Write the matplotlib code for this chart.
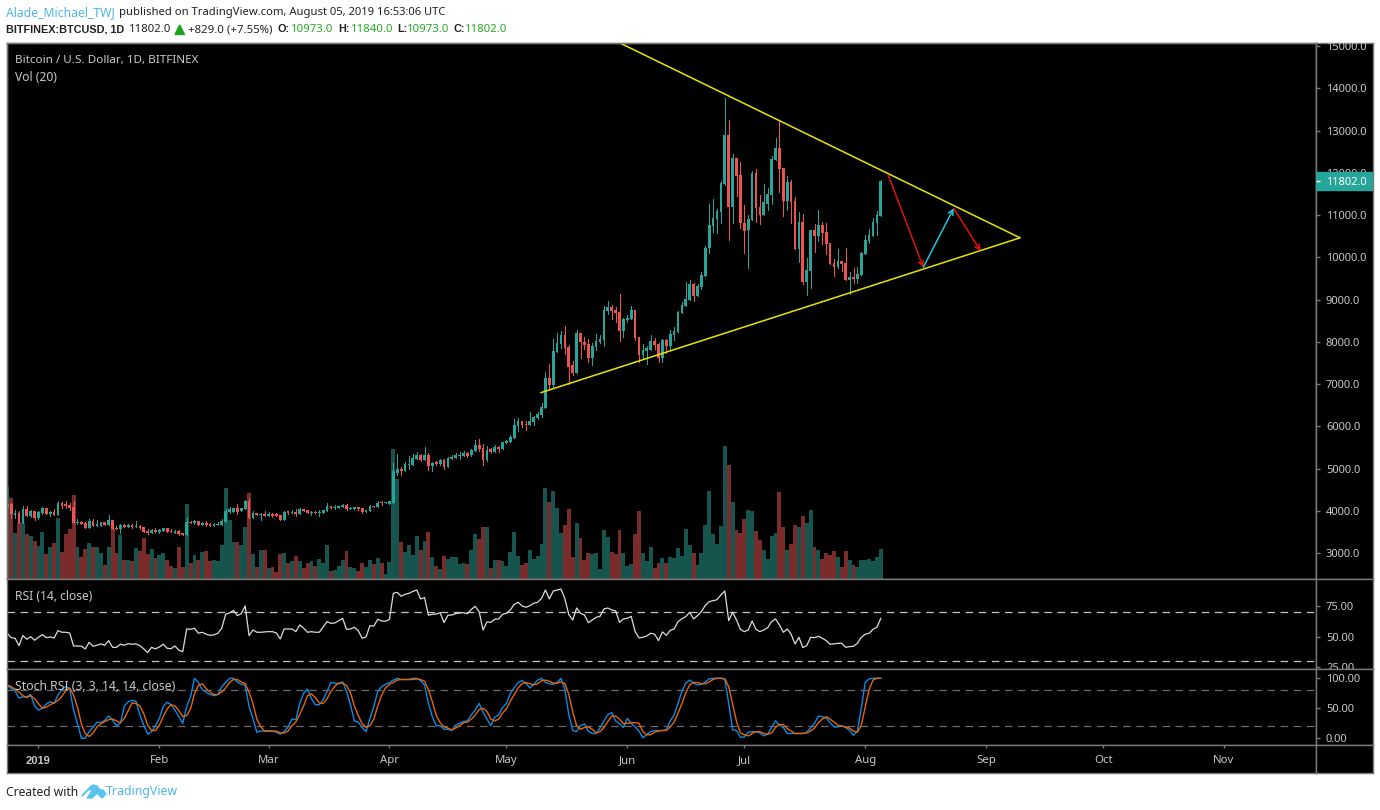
import numpy as np
import matplotlib
matplotlib.use("Agg")
import matplotlib.pyplot as plt
from matplotlib.patches import Polygon, Rectangle

plt.rcParams['font.family'] = ['Noto Sans', 'DejaVu Sans']

W, H = 1380, 810

# daily candles, first one is 24 Dec 2018, last one 5 Aug 2019
opens = [
    4065, 4160, 3900, 3947, 3710, 4042, 3876, 3994, 3829, 3947, 4065, 3923, 3971, 3900, 4184, 4160, 4136, 4089, 3710, 3734,
    3710, 3592, 3758, 3639, 3639, 3734, 3663, 3781, 3592, 3568, 3663, 3616, 3663, 3616, 3639, 3608, 3521, 3474, 3545, 3497,
    3521, 3592, 3529, 3474, 3521, 3466, 3426, 3742, 3710, 3758, 3663, 3710, 3687, 3639, 3663, 3663, 3734, 3971, 3971, 4065,
    3994, 4042, 4231, 3829, 3947, 3900, 3923, 3876, 3923, 3923, 3900, 3781, 3987, 3947, 3971, 3923, 4042, 4018, 3947, 3971,
    3947, 3947, 3994, 4113, 4065, 4065, 4089, 4136, 4042, 4042, 4089, 4065, 3971, 3994, 4113, 4089, 4207, 4184, 4160, 4184,
    4894, 4989, 4941, 5083, 5083, 5225, 5320, 5202, 5320, 5060, 5154, 5107, 5202, 5036, 5225, 5249, 5296, 5296, 5367, 5320,
    5415, 5557, 5486, 5202, 5462, 5391, 5509, 5462, 5604, 5628, 5722, 6006, 6125, 6054, 6030, 6101, 6196, 6267, 6432, 7142,
    6977, 7758, 7947, 8160, 7876, 7450, 7261, 8207, 7994, 7947, 7616, 7876, 7994, 8042, 8728, 8823, 8752, 8705, 8255, 8515,
    8539, 8752, 8113, 7687, 7781, 7805, 8018, 7947, 7616, 8042, 7900, 8160, 8231, 8681, 8847, 8989, 9359, 9083, 9296, 9556,
    10219, 10740, 10906, 11071, 11734, 12894, 11190, 12349, 11947, 10811, 10645, 10882, 11994, 11190, 11000, 11261, 11474, 12302, 12586, 12113,
    11332, 11781, 11332, 10195, 10834, 9414, 9675, 10645, 10503, 10764, 10598, 10338, 9864, 9769, 9911, 9864, 9462, 9533, 9486, 9580,
    10077, 10385, 10503, 10811, 10973,
]
highs = [
    4184, 4184, 4018, 4002, 4113, 4113, 4018, 3994, 3994, 4089, 4065, 4002, 4042, 4231, 4207, 4231, 4184, 4231, 3805, 3758,
    3734, 3805, 3805, 3781, 3734, 3734, 3900, 3781, 3639, 3687, 3687, 3687, 3687, 3758, 3663, 3608, 3568, 3568, 3592, 3568,
    3592, 3592, 3560, 3545, 3545, 3466, 3829, 3758, 3781, 3758, 3734, 3758, 3710, 3710, 3734, 3805, 4042, 4089, 4065, 4160,
    4065, 4255, 4302, 3994, 3947, 3947, 3994, 3971, 3947, 3947, 3900, 3994, 4002, 4018, 4042, 4065, 4042, 4018, 3994, 3994,
    4018, 4018, 4184, 4113, 4136, 4113, 4160, 4160, 4089, 4089, 4089, 4065, 4018, 4136, 4113, 4231, 4231, 4207, 4223, 5131,
    5344, 5044, 5154, 5296, 5344, 5391, 5344, 5509, 5367, 5154, 5178, 5225, 5225, 5273, 5320, 5367, 5391, 5415, 5391, 5462,
    5675, 5699, 5580, 5533, 5486, 5557, 5541, 5628, 5675, 5793, 6172, 6196, 6125, 6125, 6338, 6243, 6338, 6551, 7284, 7474,
    8065, 8207, 8255, 8373, 7923, 7545, 8278, 8207, 8113, 8065, 7971, 8184, 8160, 8847, 8965, 8870, 8823, 9131, 8562, 8634,
    8847, 8752, 8113, 7947, 7900, 8160, 8089, 7971, 8065, 8065, 8278, 8349, 8728, 8941, 9415, 9462, 9391, 9359, 9651, 10266,
    11261, 11379, 11142, 11805, 13770, 13249, 12444, 12349, 12255, 11237, 11000, 12042, 12089, 11474, 11734, 11639, 12397, 12823, 13225, 12113,
    11923, 11828, 11426, 11071, 11024, 9982, 10645, 10787, 11119, 10835, 10811, 10338, 9959, 10195, 9911, 10219, 9651, 9753, 9770, 10124,
    10527, 10669, 10929, 11095, 11840,
]
lows = [
    4042, 3837, 3837, 3710, 3710, 3876, 3852, 3789, 3805, 3923, 3923, 3876, 3900, 3900, 4065, 4065, 4018, 3710, 3687, 3687,
    3592, 3592, 3639, 3639, 3639, 3663, 3663, 3568, 3568, 3474, 3616, 3616, 3592, 3616, 3568, 3497, 3450, 3474, 3497, 3474,
    3521, 3497, 3489, 3474, 3426, 3426, 3426, 3710, 3687, 3663, 3663, 3639, 3639, 3639, 3663, 3663, 3734, 3947, 3971, 3923,
    3994, 4042, 3829, 3829, 3900, 3781, 3876, 3876, 3852, 3876, 3781, 3781, 3923, 3947, 3876, 3923, 3994, 3947, 3900, 3947,
    3876, 3947, 3994, 4065, 4042, 4065, 4089, 4018, 4042, 4042, 4018, 3947, 3971, 3994, 4089, 4089, 4136, 4184, 4160, 4184,
    4847, 4847, 4941, 4989, 5083, 5225, 5178, 5202, 4965, 4941, 5083, 5083, 4989, 5036, 5225, 5249, 5225, 5296, 5273, 5296,
    5415, 5415, 5083, 5178, 5367, 5391, 5391, 5462, 5604, 5628, 5722, 5888, 5983, 5912, 6030, 6030, 6172, 6220, 6432, 6882,
    6906, 7758, 7852, 7710, 7000, 7213, 7261, 7616, 7829, 7521, 7450, 7805, 7971, 7900, 8657, 8539, 8468, 8018, 8113, 8468,
    8539, 8042, 7521, 7616, 7474, 7805, 7829, 7521, 7521, 7734, 7829, 8042, 8231, 8681, 8847, 8989, 8965, 9083, 9249, 9556,
    10101, 10598, 10574, 10811, 11710, 10409, 10811, 11450, 10692, 10101, 9746, 10882, 10835, 10787, 11000, 11119, 11261, 12302, 11545, 10977,
    11119, 10811, 10195, 9888, 9367, 9107, 9272, 10124, 10385, 10314, 10077, 9840, 9556, 9746, 9675, 9462, 9130, 9391, 9391, 9580,
    10077, 10338, 10503, 10527, 10973,
]
closes = [
    4160, 3923, 3939, 3710, 4042, 3876, 4002, 3829, 3971, 4065, 3923, 3971, 3900, 4184, 4113, 4113, 4065, 3710, 3734, 3687,
    3592, 3758, 3639, 3687, 3734, 3663, 3781, 3568, 3568, 3663, 3616, 3663, 3616, 3639, 3592, 3497, 3474, 3545, 3497, 3545,
    3592, 3497, 3489, 3521, 3450, 3426, 3734, 3710, 3758, 3663, 3710, 3663, 3639, 3687, 3687, 3758, 3994, 4042, 4065, 3971,
    4065, 4231, 3829, 3947, 3900, 3923, 3876, 3923, 3876, 3876, 3781, 3971, 3947, 3971, 3923, 4042, 3994, 3947, 3971, 3947,
    3971, 4018, 4113, 4065, 4089, 4113, 4136, 4042, 4065, 4089, 4042, 3971, 4018, 4113, 4089, 4184, 4184, 4207, 4223, 4941,
    4989, 4941, 5107, 5107, 5249, 5320, 5202, 5320, 5060, 5131, 5107, 5202, 5036, 5249, 5273, 5320, 5320, 5367, 5296, 5438,
    5557, 5462, 5202, 5438, 5391, 5509, 5462, 5628, 5659, 5746, 6030, 6125, 6030, 6030, 6125, 6220, 6291, 6456, 7142, 6977,
    7781, 7971, 8160, 7852, 7403, 7261, 8207, 7994, 7923, 7616, 7900, 8018, 8065, 8752, 8823, 8728, 8681, 8255, 8539, 8562,
    8752, 8089, 7687, 7805, 7852, 8018, 7923, 7616, 8042, 7900, 8184, 8255, 8705, 8870, 9012, 9367, 9083, 9320, 9580, 10219,
    10764, 10929, 11095, 11758, 12894, 11190, 12349, 11923, 10811, 10622, 10905, 11994, 11166, 11000, 11308, 11497, 12326, 12586, 12089, 11332,
    11781, 11308, 10195, 10834, 9414, 9698, 10645, 10503, 10764, 10574, 10314, 9840, 9769, 9911, 9840, 9462, 9533, 9486, 9604, 10101,
    10408, 10527, 10834, 11000, 11802,
]
volumes = [
    276, 243, 138, 168, 167, 135, 129, 114, 99, 141, 75, 96, 108, 183, 81, 135, 150, 252, 96, 66,
    90, 108, 96, 96, 78, 42, 96, 150, 78, 132, 57, 57, 54, 93, 84, 123, 75, 90, 63, 72,
    78, 57, 39, 33, 96, 36, 225, 48, 72, 57, 81, 84, 54, 57, 54, 102, 273, 177, 111, 111,
    102, 156, 258, 75, 36, 87, 87, 33, 36, 21, 75, 78, 48, 54, 69, 54, 33, 48, 54, 39,
    60, 48, 102, 24, 27, 39, 57, 84, 36, 33, 24, 48, 36, 57, 45, 63, 48, 15, 51, 390,
    300, 111, 81, 102, 72, 129, 87, 114, 141, 66, 39, 30, 69, 60, 66, 66, 45, 48, 45, 87,
    135, 120, 156, 156, 33, 57, 57, 54, 39, 81, 141, 69, 42, 48, 87, 60, 69, 105, 273, 231,
    264, 213, 138, 162, 210, 66, 168, 123, 57, 78, 75, 78, 30, 147, 126, 81, 75, 147, 78, 39,
    45, 135, 204, 78, 54, 96, 33, 48, 63, 48, 66, 63, 93, 69, 150, 102, 78, 42, 78, 162,
    264, 135, 105, 159, 399, 342, 231, 147, 138, 180, 207, 204, 144, 117, 87, 60, 129, 138, 261, 156,
    87, 105, 162, 156, 189, 168, 207, 96, 87, 60, 78, 72, 84, 66, 36, 84, 57, 42, 36, 57,
    57, 60, 54, 66, 90,
]
rsi = [
    52.9, 49.3, 48.8, 42.8, 51.0, 48.0, 50.1, 47.2, 49.6, 51.8, 49.3, 49.9, 49.1, 55.0, 53.7, 53.7, 53.1, 42.5, 42.5, 42.3,
    40.1, 45.5, 42.3, 43.1, 44.2, 43.1, 46.9, 41.4, 41.4, 43.9, 43.1, 44.4, 43.9, 44.2, 42.8, 40.1, 37.1, 41.4, 40.1, 41.7,
    43.9, 40.6, 40.3, 42.5, 39.0, 37.9, 56.4, 56.1, 57.0, 52.9, 53.7, 52.1, 51.2, 51.5, 52.9, 57.0, 68.4, 69.5, 71.6, 67.3,
    68.9, 75.2, 51.0, 55.6, 53.7, 53.7, 54.0, 54.2, 54.2, 53.1, 48.2, 56.4, 56.4, 56.4, 54.2, 59.7, 57.0, 53.7, 54.2, 53.7,
    53.7, 58.0, 62.4, 61.0, 61.3, 63.2, 65.1, 56.1, 56.4, 57.8, 55.0, 48.8, 49.9, 59.1, 58.8, 64.3, 62.9, 62.7, 64.3, 85.5,
    86.3, 83.1, 84.7, 85.5, 87.1, 88.2, 80.9, 82.0, 67.6, 68.4, 68.6, 69.7, 61.6, 67.6, 67.8, 68.9, 69.5, 69.7, 68.9, 72.4,
    74.9, 70.5, 55.6, 62.1, 61.8, 64.3, 64.6, 68.4, 69.2, 71.9, 76.5, 78.2, 75.2, 74.1, 75.4, 77.4, 78.2, 81.4, 88.2, 80.9,
    87.4, 88.2, 89.0, 80.9, 68.1, 63.7, 73.5, 69.2, 67.8, 61.6, 63.7, 65.9, 66.7, 72.7, 73.5, 71.9, 71.1, 61.8, 64.6, 65.1,
    66.7, 54.2, 49.1, 49.6, 50.7, 52.9, 52.1, 46.9, 54.0, 51.2, 55.3, 56.4, 62.4, 64.8, 66.5, 70.0, 64.6, 67.3, 70.5, 75.7,
    78.7, 79.5, 80.3, 84.2, 87.4, 63.2, 70.0, 63.7, 56.1, 54.2, 55.6, 62.9, 56.1, 54.2, 55.6, 57.5, 62.4, 64.6, 59.7, 53.7,
    56.4, 52.1, 44.2, 49.6, 41.2, 42.8, 49.6, 49.3, 50.4, 48.8, 46.9, 43.9, 44.2, 44.7, 44.7, 41.4, 42.0, 42.3, 44.7, 49.6,
    52.1, 52.9, 56.1, 57.8, 65.1,
]
stoch_k = [
    88, 83, 79, 67, 69, 69, 73, 54, 47, 50, 57, 61, 58, 72, 81, 86, 83, 47, 25, 0,
    0, 11, 18, 27, 26, 30, 37, 30, 21, 25, 53, 61, 63, 62, 39, 22, 7, 11, 21, 33,
    53, 60, 56, 47, 36, 25, 53, 69, 100, 93, 81, 77, 73, 71, 73, 86, 93, 100, 100, 94,
    90, 89, 53, 33, 10, 12, 12, 12, 12, 10, 7, 11, 19, 32, 31, 58, 75, 82, 66, 56,
    56, 64, 78, 93, 92, 91, 94, 78, 56, 29, 27, 18, 11, 33, 53, 78, 86, 90, 93, 97,
    100, 98, 98, 98, 100, 100, 96, 89, 58, 36, 21, 21, 15, 15, 13, 22, 25, 28, 29, 39,
    47, 58, 44, 32, 21, 35, 39, 51, 58, 75, 84, 93, 96, 92, 84, 90, 97, 100, 93, 91,
    90, 93, 100, 81, 39, 13, 11, 21, 24, 12, 8, 8, 17, 29, 39, 43, 29, 24, 18, 33,
    25, 19, 12, 1, 6, 11, 13, 13, 13, 14, 29, 39, 58, 78, 92, 97, 92, 89, 90, 94,
    99, 100, 100, 100, 99, 58, 14, 13, 2, 2, 10, 11, 11, 9, 4, 7, 18, 29, 22, 18,
    8, 8, 8, 8, 8, 10, 17, 25, 37, 36, 34, 26, 19, 19, 21, 18, 13, 5, 12, 50,
    93, 99, 100, 100, 100,
]
stoch_d = [
    89, 86, 82, 77, 71, 68, 71, 66, 58, 50, 52, 56, 59, 63, 70, 79, 84, 72, 52, 24,
    8, 3, 9, 19, 24, 28, 31, 32, 29, 26, 33, 46, 59, 58, 54, 41, 22, 13, 13, 22,
    36, 49, 56, 54, 46, 36, 38, 49, 74, 88, 91, 83, 77, 73, 73, 77, 84, 93, 98, 98,
    94, 91, 77, 58, 32, 19, 12, 12, 12, 12, 9, 9, 12, 21, 27, 40, 54, 71, 74, 68,
    59, 58, 66, 78, 87, 92, 92, 88, 76, 54, 38, 24, 18, 21, 32, 54, 72, 84, 90, 93,
    97, 98, 98, 98, 98, 99, 98, 95, 81, 61, 38, 26, 19, 17, 14, 17, 21, 26, 27, 32,
    39, 48, 50, 45, 32, 29, 32, 42, 49, 62, 73, 84, 91, 93, 91, 89, 91, 96, 97, 95,
    92, 92, 94, 91, 73, 44, 21, 15, 18, 19, 15, 9, 11, 18, 28, 37, 37, 32, 24, 25,
    26, 26, 25, 11, 6, 6, 10, 12, 13, 13, 19, 27, 42, 58, 76, 89, 93, 93, 91, 91,
    94, 98, 100, 100, 99, 86, 57, 28, 9, 6, 4, 8, 11, 11, 8, 7, 9, 18, 23, 23,
    16, 12, 8, 8, 8, 9, 12, 17, 26, 32, 36, 32, 27, 22, 20, 19, 17, 12, 10, 22,
    52, 81, 97, 100, 100,
]

month_days = [0, 31, 59, 90, 120, 151, 181, 212, 243, 273, 304]
month_labels = ["2019", "Feb", "Mar", "Apr", "May", "Jun", "Jul", "Aug", "Sep", "Oct", "Nov"]
price_ticks = [3000, 4000, 5000, 6000, 7000, 8000, 9000, 10000, 11000, 12000, 13000, 14000, 15000]
rsi_ticks = [25, 50, 75]
stoch_ticks = [0, 50, 100]

# hand drawn trend lines and arrows, (day, price)
upper_line = [(149.1, 15071), (251.7, 10460)]
lower_line = [(128.8, 6794), (251.7, 10460)]
red_arrow_1 = [(217.9, 11947), (226.9, 9762)]
cyan_arrow = [(226.9, 9762), (234.7, 11159)]
red_arrow_2 = [(234.7, 11159), (241.6, 10148)]

GREEN = "#26a69a"
RED = "#ef5350"
VOL_GREEN = "#16544e"
VOL_RED = "#7a2c2c"
BORDER = "#787878"
TEXT = "#c8c8c8"
BOLD_FONT = ['Liberation Sans', 'DejaVu Sans']

days = np.arange(len(closes)) - 8
opens, highs, lows, closes = map(np.array, (opens, highs, lows, closes))
up = closes >= opens
XLIM = (-8.2, 327.6)


def pane(x0, y0, x1, y1, **kwargs):
    # axes from pixel edges, y counted from the top of the image
    ax = fig.add_axes([x0 / W, 1 - y1 / H, (x1 - x0) / W, (y1 - y0) / H], **kwargs)
    ax.set_facecolor("black")
    ax.set_xticks([])
    ax.set_yticks([])
    for spine in ax.spines.values():
        spine.set_color(BORDER)
        spine.set_linewidth(1)
    return ax


def scale_column(y0, y1, ylim, ticks, fmt):
    # the value column right of a pane, labels get clipped at its edges
    ax = pane(1316, y0, 1373, y1)
    ax.set_xlim(0, 57)
    ax.set_ylim(ylim)
    ax.hlines(ticks, 0, 4, color=BORDER, lw=1)
    for t in ticks:
        ax.text(10, t, fmt % t, color=TEXT, fontsize=8.0, va="center_baseline", clip_on=True)
    return ax


fig = plt.figure(figsize=(W / 100, H / 100), dpi=100, facecolor="white")

# volume goes under the candles in the same pane
price_lim = (2385, 15071)
ax_vol = pane(6.5, 43, 1316, 579)
ax_vol.set_xlim(XLIM)
ax_vol.set_ylim(0, 1608)
ax_vol.bar(days, volumes, width=1.0, color=[VOL_GREEN if u else VOL_RED for u in up],
           linewidth=0, antialiased=False)

ax = pane(6.5, 43, 1316, 579)
ax.patch.set_visible(False)
ax.set_xlim(XLIM)
ax.set_ylim(price_lim)
colors = [GREEN if u else RED for u in up]
ax.vlines(days, lows, highs, color=colors, lw=0.6, antialiased=False)
ax.bar(days, np.maximum(np.abs(closes - opens), 30), bottom=np.minimum(opens, closes),
       width=0.7, color=colors, linewidth=0, antialiased=False)

for line in (upper_line, lower_line):
    xs, ys = zip(*line)
    ax.plot(xs, ys, color="#e6e600", lw=1.1, solid_capstyle="round")
for arrow, col in ((red_arrow_1, "#e01010"), (cyan_arrow, "#1fc8d8"), (red_arrow_2, "#e01010")):
    ax.annotate("", xy=arrow[1], xytext=arrow[0],
                arrowprops=dict(arrowstyle="->", color=col, lw=1.1, shrinkA=0, shrinkB=0,
                                mutation_scale=9))

ax_price = scale_column(43, 579, price_lim, price_ticks, "%.1f")
ax_price.add_patch(Rectangle((0, 11802 - 210), 57, 420, color=GREEN, zorder=3.5))
ax_price.hlines(11802, 0, 4, color="white", lw=1, zorder=4)
ax_price.text(10, 11802, "%.1f" % closes[-1], color="white", fontsize=8.0, va="center_baseline", zorder=4)

# RSI
rsi_lim = (23.7, 97.2)
ax_rsi = pane(6.5, 579, 1316, 669)
ax_rsi.set_xlim(XLIM)
ax_rsi.set_ylim(rsi_lim)
ax_rsi.hlines([70, 30], XLIM[0], XLIM[1], color="#c4c4c4", lw=0.9, linestyles=(0, (6, 4.5)))
ax_rsi.plot(days, rsi, color="#dcdcdc", lw=0.9)
scale_column(579, 669, rsi_lim, rsi_ticks, "%.2f")

# Stoch RSI
stoch_lim = (-11.2, 115.5)
ax_st = pane(6.5, 669, 1316, 745)
ax_st.set_xlim(XLIM)
ax_st.set_ylim(stoch_lim)
ax_st.hlines([80, 20], XLIM[0], XLIM[1], color="#6a6a6a", lw=0.9, linestyles=(0, (6, 4.5)))
ax_st.plot(days, stoch_k, color="#0a8ce6", lw=1.0)
ax_st.plot(days, stoch_d, color="#e8650a", lw=1.0)
scale_column(669, 745, stoch_lim, stoch_ticks, "%.2f")

# time axis
ax_time = pane(6.5, 745, 1316, 773)
ax_time.set_xlim(XLIM)
ax_time.set_ylim(28, 0)
ax_time.vlines(month_days, 0, 3, color=BORDER, lw=1)
for d, label in zip(month_days, month_labels):
    if label == "2019":
        ax_time.text(d, 15.5, label, color=TEXT, fontsize=8.0, ha="center", va="center",
                     family=BOLD_FONT, fontweight="bold")
    else:
        ax_time.text(d, 15.5, label, color=TEXT, fontsize=8.2, ha="center", va="center")
pane(1316, 745, 1373, 773)

# everything around the panes is placed in image pixels
ov = fig.add_axes([0, 0, 1, 1])
ov.set_xlim(0, W)
ov.set_ylim(H, 0)
ov.axis("off")
ov.patch.set_visible(False)


def put(x, y, s, color="#222222", size=8.2, **kwargs):
    ov.text(x, y, s, color=color, fontsize=size, va="center", **kwargs)


put(6, 12.5, "Alade_Michael_TWJ", color="#4db6e6", size=8.8)
put(119, 12.5, "published on TradingView.com, August 05, 2019 16:53:06 UTC", size=8.1)
put(6, 29.5, "BITFINEX:BTCUSD, 1D", size=7.8, family=BOLD_FONT, fontweight="bold")
put(129, 29.5, "11802.0")
ov.add_patch(Polygon([(175, 34.5), (184.5, 34.5), (179.7, 25)], color="#1aa51a"))
put(188, 29.5, "+829.0 (+7.55%)")
for x_lab, lab, x_val, val in ((278, "O:", 291, "10973.0"), (338, "H:", 351, "11840.0"),
                               (397, "L:", 407, "10973.0"), (454, "C:", 465, "11802.0")):
    put(x_lab, 29.5, lab, size=7.8, family=BOLD_FONT, fontweight="bold")
    put(x_val, 29.5, val, color="#22ab22")

put(15, 60.5, "Bitcoin / U.S. Dollar, 1D, BITFINEX", color=TEXT, size=8.4)
put(15, 77.5, "Vol (20)", color=TEXT, size=8.7)
put(15, 597, "RSI (14, close)", color=TEXT, size=8.7)
put(15, 687, "Stoch RSI (3, 3, 14, 14, close)", color=TEXT, size=8.8)

put(6, 792, "Created with", size=8.7)
ov.add_patch(Polygon([(82, 796), (90, 787), (93, 785), (97, 786), (100, 790), (103, 790), (106, 794),
                      (102, 798), (97, 793), (92, 798), (87, 798), (92, 791), (89, 789)], color="#5cc4ec"))
put(106, 792, "TradingView", color="#4db6e6", size=8.9)

fig.savefig("out.png", dpi=100, facecolor="white")
